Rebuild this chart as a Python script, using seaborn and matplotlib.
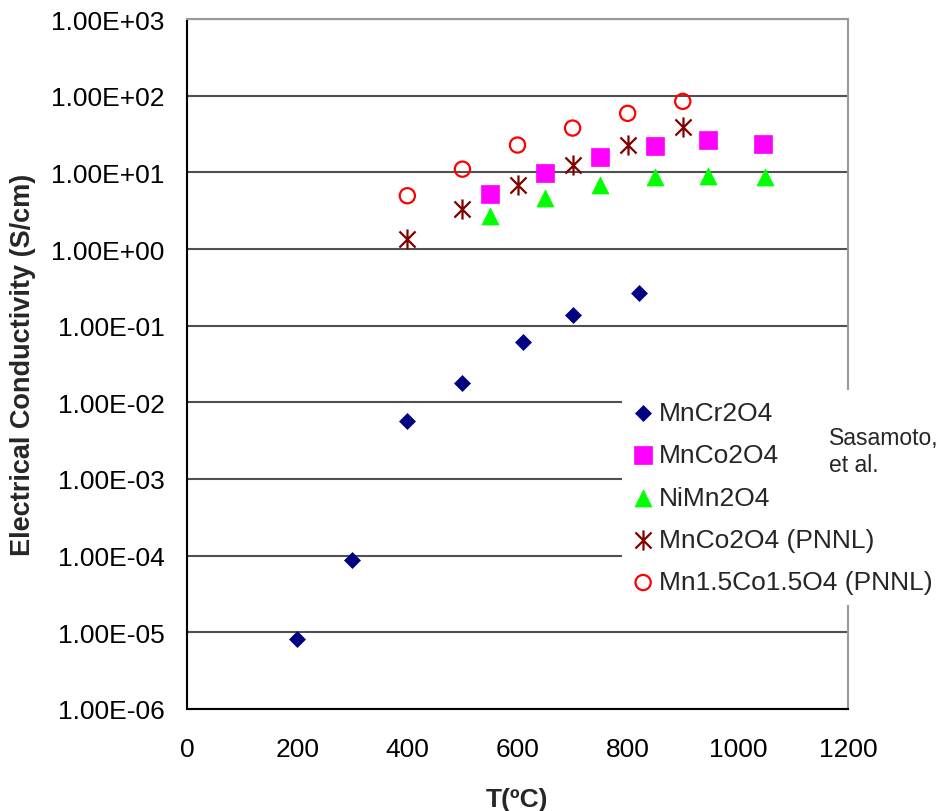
import numpy as np
import pandas as pd
import matplotlib
matplotlib.use("Agg")
import matplotlib.pyplot as plt
from matplotlib.path import Path
import seaborn as sns

# ---- data ----
mncr_T = [200, 300, 400, 500, 610, 700, 820]
mncr_s = [8.1e-6, 8.9e-5, 5.7e-3, 1.8e-2, 6.2e-2, 1.36e-1, 2.7e-1]

mnco_T = [550, 650, 750, 850, 945, 1045]
mnco_s = [5.2, 9.9, 15.8, 22.0, 26.7, 23.7]

nimn_T = [550, 650, 750, 850, 945, 1050]
nimn_s = [2.7, 4.6, 6.8, 8.6, 8.9, 8.7]

pnnl_mnco_T = [400, 500, 600, 700, 800, 900]
pnnl_mnco_s = [1.35, 3.3, 6.8, 12.6, 22.5, 39.5]

pnnl_mn15_T = [400, 500, 600, 700, 800, 900]
pnnl_mn15_s = [4.95, 11.0, 22.7, 37.8, 58.8, 84.3]

series_names = ["MnCr2O4", "MnCo2O4", "NiMn2O4", "MnCo2O4 (PNNL)", "Mn1.5Co1.5O4 (PNNL)"]
x_ticks = [0, 200, 400, 600, 800, 1000, 1200]
y_ticks = [1e-6, 1e-5, 1e-4, 1e-3, 1e-2, 1e-1, 1e0, 1e1, 1e2, 1e3]

sns.set_style("white")
plt.rcParams["font.family"] = ["Liberation Sans", "DejaVu Sans"]

fig = plt.figure(figsize=(9.45, 8.12), dpi=100)
ax = fig.add_axes([187/945, 1-710/812, (848-187)/945, (710-20)/812])

# asterisk marker: vertical line plus X
star = Path([(0, -1), (0, 1), (-0.8, -0.8), (0.8, 0.8), (-0.8, 0.8), (0.8, -0.8)],
            [Path.MOVETO, Path.LINETO, Path.MOVETO, Path.LINETO, Path.MOVETO, Path.LINETO])

sns.scatterplot(x=mncr_T, y=mncr_s, ax=ax, marker="D", s=66, color="#000080",
                edgecolor="#000080", linewidth=0.5, label=series_names[0], zorder=4)
sns.scatterplot(x=mnco_T, y=mnco_s, ax=ax, marker="s", s=150, color="#FF00FF",
                edgecolor="#FF00FF", linewidth=0.5, label=series_names[1], zorder=4)
sns.scatterplot(x=nimn_T, y=nimn_s, ax=ax, marker="^", s=150, color="#00FF00",
                edgecolor="#00FF00", linewidth=0.5, label=series_names[2], zorder=4)
sns.scatterplot(x=pnnl_mnco_T, y=pnnl_mnco_s, ax=ax, marker=star, s=210, color="#800000",
                edgecolor="#800000", linewidth=1.6, label=series_names[3], zorder=4)
sns.scatterplot(x=pnnl_mn15_T, y=pnnl_mn15_s, ax=ax, marker="o", s=120, color="#FF0000",
                facecolor="none", edgecolor="#FF0000", linewidth=1.6, label=series_names[4], zorder=4)

ax.set_yscale("log")
ax.set_xlim(0, 1200)
ax.set_ylim(1e-6, 1e3)
ax.set_xticks(x_ticks)
ax.set_xticklabels([str(t) for t in x_ticks])
ax.set_yticks(y_ticks)
ax.set_yticklabels([f"{v:.2E}" for v in y_ticks])
ax.yaxis.set_minor_locator(matplotlib.ticker.NullLocator())

ax.tick_params(axis="both", which="major", labelsize=19, colors="black",
               length=7, width=1.5, direction="out")
ax.tick_params(axis="x", pad=13)
ax.tick_params(axis="y", pad=9)
ax.yaxis.grid(True, color="#505050", linewidth=1.5)
ax.xaxis.grid(False)

for side in ["left", "bottom"]:
    ax.spines[side].set_color("black")
    ax.spines[side].set_linewidth(1.5)
for side in ["top", "right"]:
    ax.spines[side].set_color("#999999")
    ax.spines[side].set_linewidth(1.5)

ax.set_xlabel("T(ºC)", fontsize=19, fontweight="bold", labelpad=19)
ax.set_ylabel("Electrical Conductivity (S/cm)", fontsize=19.5, fontweight="bold")
ax.yaxis.set_label_coords((36-187)/661, 0.5)

leg = ax.legend(loc="upper left", bbox_to_anchor=(622/945, 1-391/812),
                bbox_transform=fig.transFigure, frameon=True, fancybox=False,
                fontsize=19, labelspacing=0.7, handlelength=0.8, handletextpad=0.2,
                borderpad=0.4, borderaxespad=0, markerscale=1.0)
leg.get_frame().set_facecolor("white")
leg.get_frame().set_edgecolor("none")
leg.get_frame().set_alpha(1)

fig.text(829/945, 1-427/812, "Sasamoto,\net al.", fontsize=16.5, ha="left", va="top",
         linespacing=1.25)

fig.savefig("out.png", dpi=100)
